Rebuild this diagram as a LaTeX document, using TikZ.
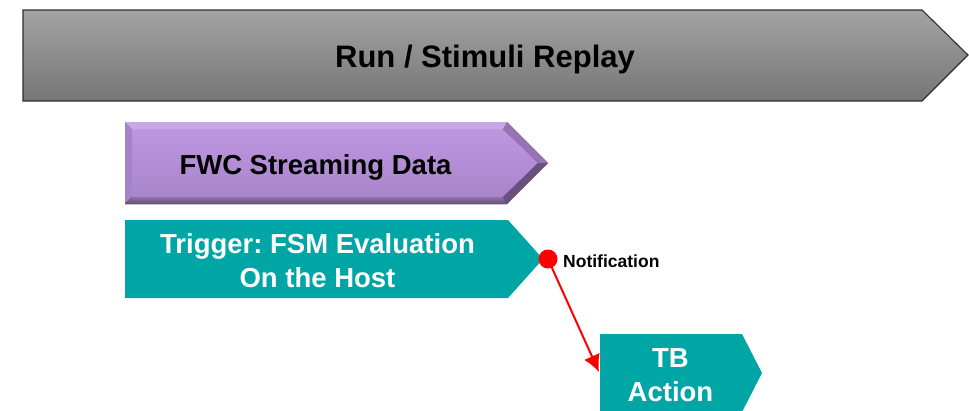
\documentclass[tikz,border=0pt]{standalone}
\usepackage{fontspec}
\setmainfont{Liberation Sans}
\usetikzlibrary{arrows.meta}
\frenchspacing
\definecolor{stagegrayhi}{HTML}{A3A3A3}
\definecolor{stagegraylo}{HTML}{767676}
\definecolor{stageedge}{HTML}{2E2E2E}
\definecolor{fwcfill}{HTML}{B48ED8}
\definecolor{fwchi}{HTML}{BD97E0}
\definecolor{fwclo}{HTML}{A985CC}
\definecolor{tealfill}{HTML}{00A5A5}
\definecolor{notered}{HTML}{FF0000}
\tikzset{
  boldtext/.style={font=\bfseries, inner sep=0pt},
  darktext/.style={boldtext, text=black},
  lighttext/.style={boldtext, text=white},
  stagefill/.style={top color=stagegrayhi, bottom color=stagegraylo, draw=stageedge, line width=1.1pt, line join=miter},
  tealshape/.style={fill=tealfill},
  notelink/.style={draw=notered, line width=2pt, -{Latex[length=17pt,width=17pt]}},
}
\begin{document}
\begin{tikzpicture}[x=1pt, y=-1pt]
\useasboundingbox (0,0) rectangle (969,410);
\clip (0,0) rectangle (969,410);

% top stage: gray chevron
\path[stagefill] (23,10) -- (922,10) -- (968,55) -- (922,101) -- (23,101) -- cycle;
\node[darktext, font=\fontsize{31}{36}\selectfont\bfseries, anchor=base] (run) at (485,67) {Run / Stimuli Replay};

% purple bevelled chevron
\fill[fwcfill] (125,122) -- (507,122) -- (548,163) -- (507,204) -- (125,204) -- cycle;
\fill[top color=fwchi, bottom color=fwclo] (132,129) -- (503,129) -- (538,163) -- (503,197) -- (132,197) -- cycle;
\fill[fill=fwchi!85!white] (125,122) -- (507,122) -- (503,129) -- (132,129) -- cycle;
\fill[fill=fwcfill!92!black] (125,122) -- (132,129) -- (132,197) -- (125,204) -- cycle;
\fill[top color=fwcfill!80!black, bottom color=fwcfill!55!black] (125,204) -- (507,204) -- (503,197) -- (132,197) -- cycle;
\fill[fill=fwcfill!82!black] (507,122) -- (548,163) -- (538,163) -- (503,129) -- cycle;
\fill[fill=fwcfill!58!black] (548,163) -- (507,204) -- (503,197) -- (538,163) -- cycle;
\node[darktext, font=\fontsize{27.5}{32}\selectfont\bfseries, anchor=base] (fwc) at (315.5,174) {FWC Streaming Data};

% teal trigger chevron
\path[tealshape] (125,220) -- (508,220) -- (543,259) -- (508,298) -- (125,298) -- cycle;
\node[lighttext, font=\fontsize{27.5}{34}\selectfont\bfseries, anchor=base] (trig1) at (317.5,253) {Trigger: FSM Evaluation};
\node[lighttext, font=\fontsize{27.5}{34}\selectfont\bfseries, anchor=base] (trig2) at (317.5,287) {On the Host};

% notification point and link to the testbench action
\node[circle, fill=notered, minimum size=19pt, inner sep=0pt] (dot) at (548,259) {};
\node[darktext, font=\fontsize{17.5}{20}\selectfont\bfseries, anchor=base west] (note) at (563,267) {Notification};
\coordinate (linkend) at (599,372);
\path[notelink] (dot.center) -- (linkend);

% teal action chevron
\path[tealshape] (600,334) -- (742,334) -- (762,373) -- (742,412) -- (600,412) -- cycle;
\node[lighttext, font=\fontsize{27.5}{34}\selectfont\bfseries, anchor=base] (tb1) at (670.5,367) {TB};
\node[lighttext, font=\fontsize{27.5}{34}\selectfont\bfseries, anchor=base] (tb2) at (670.5,401) {Action};
\end{tikzpicture}
\end{document}
